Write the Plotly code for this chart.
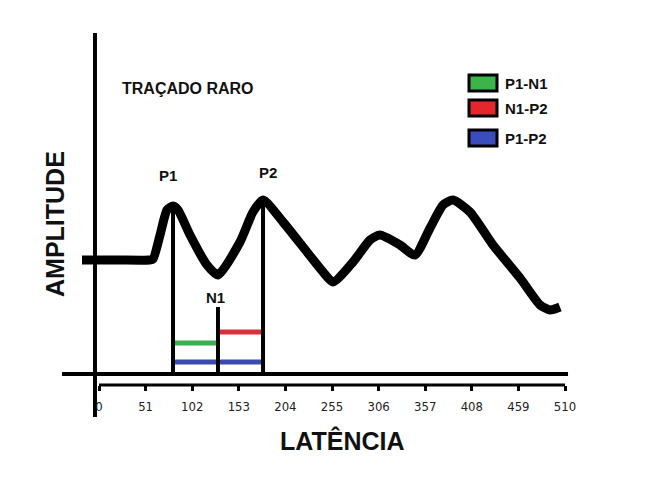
import plotly.graph_objects as go

# ---------------- data ----------------
# waveform (latency, amplitude in arbitrary units above baseline)
wave_latency = [-18.6, 20.0, 55.0, 59.1, 66.8, 74.4, 81.0, 86.5, 99.6, 118.2, 130.2, 154.3, 168.5, 179.5,
                201.4, 227.6, 245.2, 256.1, 278.0, 296.6, 307.5, 329.4, 345.8, 362.3, 376.5,
                387.4, 406.0, 431.2, 460.8, 482.7, 493.6, 504.5]
wave_amplitude = [114, 114, 114, 115, 139, 164, 168, 164, 139, 109, 99, 132, 162, 174,
                  152, 122, 102, 92, 112, 134, 139, 129, 119, 146, 169,
                  174, 162, 129, 96, 69, 64, 67]

# peak markers
peak_labels = ["P1", "N1", "P2"]
peak_latency = [81.0, 130.2, 179.5]
peak_top = [168, 67, 174]          # top of the vertical marker line
peak_label_amp = [199, 77, 202]
peak_label_lat = [75.5, 127.0, 185.0]

# intervals
interval_names = ["P1-N1", "N1-P2", "P1-P2"]
interval_start = [81.0, 130.2, 81.0]
interval_end = [130.2, 179.5, 179.5]
interval_level = [31, 42, 12]
interval_colors = ["#3aae50", "#d8303a", "#3c4aae"]
legend_colors = ["#3cb44a", "#e5262d", "#3b4cbc"]

tick_values = [0, 51, 102, 153, 204, 255, 306, 357, 408, 459, 510]
tick_labels = [str(v) for v in tick_values]

# ---------------- figure ----------------
W, H = 654, 483
def px(x):  # pixel -> paper x
    return x / W
def py(y):  # pixel -> paper y
    return 1 - y / H

fig = go.Figure()

# interval bars
for s, e, lv, c, n in zip(interval_start, interval_end, interval_level, interval_colors, interval_names):
    fig.add_trace(go.Scatter(x=[s, e], y=[lv, lv], mode="lines",
                             line=dict(color=c, width=5), name=n, showlegend=False,
                             hoverinfo="skip"))

# peak vertical lines
for lat, top in zip(peak_latency, peak_top):
    fig.add_trace(go.Scatter(x=[lat, lat], y=[0, top], mode="lines",
                             line=dict(color="black", width=4), showlegend=False,
                             hoverinfo="skip"))

# waveform
fig.add_trace(go.Scatter(x=wave_latency, y=wave_amplitude, mode="lines",
                         line=dict(color="black", width=9, shape="spline", smoothing=0.6),
                         showlegend=False, hoverinfo="skip"))

# axis decoration lines
fig.add_shape(type="line", x0=-4.4, x1=-4.4, y0=-43, y1=341,
              line=dict(color="black", width=4), layer="below")
fig.add_shape(type="line", x0=-40.5, x1=513.3, y0=0, y1=0,
              line=dict(color="black", width=4), layer="below")
fig.add_shape(type="line", x0=tick_values[0], x1=tick_values[-1], y0=-11, y1=-11,
              line=dict(color="black", width=3), layer="below")

# peak labels
for lab, lx, ly in zip(peak_labels, peak_label_lat, peak_label_amp):
    fig.add_annotation(x=lx, y=ly, text="<b>%s</b>" % lab, showarrow=False,
                       xanchor="center", yanchor="middle",
                       font=dict(family="Liberation Sans", size=15, color="#111"))

# legend (boxes + labels)
box_tops = [75, 100, 130]
for t, c, n in zip(box_tops, legend_colors, interval_names):
    fig.add_shape(type="rect", xref="paper", yref="paper",
                  x0=px(469), x1=px(497), y0=py(t), y1=py(t + 16),
                  fillcolor=c, line=dict(color="black", width=3))
    fig.add_annotation(xref="paper", yref="paper", x=px(503), y=py(t + 8.5),
                       xanchor="left", yanchor="middle", showarrow=False,
                       text="<b>%s</b>" % n,
                       font=dict(family="Liberation Sans", size=15, color="#111"))

# titles
fig.add_annotation(xref="paper", yref="paper", x=px(188), y=py(88), showarrow=False,
                   xanchor="center", yanchor="middle",
                   text="<b>TRAÇADO RARO</b>",
                   font=dict(family="Liberation Sans", size=16, color="#111"))
fig.add_annotation(xref="paper", yref="paper", x=px(55), y=py(224), showarrow=False,
                   xanchor="center", yanchor="middle",
                   text="<b>AMPLITUDE</b>", textangle=-90,
                   font=dict(family="Liberation Sans", size=25, color="#111"))
fig.add_annotation(xref="paper", yref="paper", x=px(342), y=py(440), showarrow=False,
                   xanchor="center", yanchor="middle",
                   text="<b>LATÊNCIA</b>",
                   font=dict(family="Liberation Sans", size=25, color="#111"))

fig.update_layout(
    width=W, height=H,
    margin=dict(l=0, r=0, t=0, b=0),
    paper_bgcolor="white", plot_bgcolor="white",
    showlegend=False,
    xaxis=dict(range=[-108.35, 607.4], showgrid=False, zeroline=False, showline=False,
               tickvals=tick_values, ticktext=tick_labels,
               ticks="outside", ticklen=5, tickwidth=3, tickcolor="black",
               tickfont=dict(family="DejaVu Sans Condensed, Liberation Sans", size=13, color="#222"),
               anchor="free", position=py(385), ticklabelstandoff=4, fixedrange=True),
    yaxis=dict(range=[-109, 374], visible=False, domain=[0, 1], fixedrange=True),
)

fig.write_html("out.html")
